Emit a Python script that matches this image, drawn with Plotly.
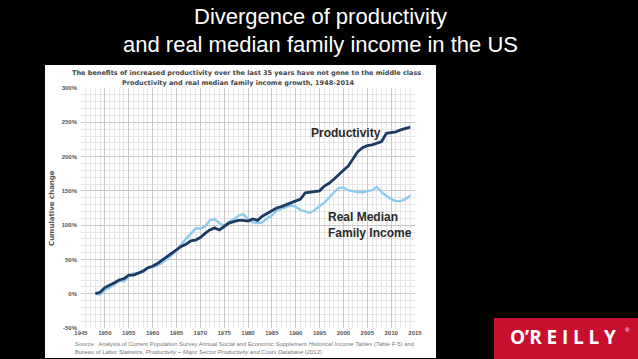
import plotly.graph_objects as go

years = list(range(1948, 2015))
productivity = [0, 2, 9, 12, 16, 20, 22, 27, 27, 30, 33, 38, 40, 44, 49, 53, 58, 63, 69, 72,
                77, 78, 82, 88, 93, 96, 93, 98, 103, 105, 107, 107, 106, 109, 107, 113, 117, 121,
                125, 127, 130, 132, 135, 138, 147, 148, 149, 150, 157, 161, 167, 174, 180, 186,
                197, 207, 213, 216, 217, 219, 222, 234, 235, 236, 239, 241, 243]
income = [0, -1, 5, 9, 13, 19, 18, 25, 30, 30, 31, 37, 39, 41, 45, 51, 56, 62, 72, 80, 88,
          95, 95, 98, 107, 109, 103, 99, 105, 108, 114, 116, 109, 104, 103, 104, 110, 114,
          121, 124, 126, 129, 127, 122, 120, 118, 122, 127, 133, 140, 148, 154, 155, 151,
          149, 148, 148, 149, 151, 156, 148, 143, 138, 135, 135, 138, 143]
x_ticks = list(range(1945, 2016, 5))
y_ticks = [-50, 0, 50, 100, 150, 200, 250, 300]
y_tick_labels = [f"{v}%" for v in y_ticks]

W, H = 638, 359
L, R, T, B = 81, 415, 88, 328
pw, ph = R - L, B - T


def px(x):
    return (x - L) / pw


def py(y):
    return (B - y) / ph


fig = go.Figure()
fig.add_trace(go.Scatter(x=years, y=income, mode="lines", line=dict(color="#8fcbed", width=2.4),
                         hoverinfo="skip", showlegend=False))
fig.add_trace(go.Scatter(x=years, y=productivity, mode="lines", line=dict(color="#1d3a63", width=2.8),
                         hoverinfo="skip", showlegend=False))

shapes = [
    dict(type="rect", xref="paper", yref="paper", x0=px(45), x1=px(436), y0=py(358), y1=py(65),
         fillcolor="white", line=dict(width=0), layer="below"),
    dict(type="rect", xref="paper", yref="paper", x0=px(494), x1=px(640), y0=py(360), y1=py(318),
         fillcolor="#c8102e", line=dict(width=0), layer="above"),
]

sm = dict(family="Liberation Sans, Arial", size=6, color="#555555", weight="bold")
sp = "\u2005"
logo = sp.join(["O\u2019R", "E", "I", "L", "L", "Y"])
anns = [
    dict(text="Divergence of productivity", x=px(320), y=py(17),
         font=dict(family="Liberation Sans, Arial", size=22, color="white")),
    dict(text="and real median family income in the US", x=px(320), y=py(44),
         font=dict(family="Liberation Sans, Arial", size=22, color="white")),
    dict(text="The benefits of increased productivity over the last 35 years have not gone to the middle class",
         x=px(246), y=py(73), font=dict(family="DejaVu Sans", size=6.5, color="#444", weight="bold")),
    dict(text="Productivity and real median family income growth, 1948-2014",
         x=px(238), y=py(83), font=dict(family="DejaVu Sans", size=6.5, color="#444", weight="bold")),
    dict(text="Cumulative change", x=px(52), y=py(208), textangle=-90,
         font=dict(family="DejaVu Sans", size=7, color="#555", weight="bold")),
    dict(text="Productivity", x=px(346), y=py(133),
         font=dict(family="Liberation Sans, Arial", size=12, color="#2b2b2b", weight="bold")),
    dict(text="Real Median<br>Family Income", x=px(326), y=py(225), xanchor="left", align="left",
         font=dict(family="Liberation Sans, Arial", size=12, color="#2b2b2b", weight="bold")),
    dict(text=logo, x=px(563), y=py(337),
         font=dict(family="Open Sans, Liberation Sans", size=19, color="white", weight="bold")),
    dict(text="\u00ae", x=px(627), y=py(330),
         font=dict(family="Liberation Sans", size=6, color="white")),
    dict(text="Source:  Analysis of Current Population Survey Annual Social and Economic Supplement <i>Historical Income Tables</i> (Table F-5) and",
         x=px(73), y=py(344), xanchor="left",
         font=dict(family="Liberation Sans, Arial", size=5.9, color="#777")),
    dict(text="Bureau of Labor Statistics, <i>Productivity \u2013 Major Sector Productivity and Costs Database</i> (2012)",
         x=px(73), y=py(351.5), xanchor="left",
         font=dict(family="Liberation Sans, Arial", size=5.9, color="#777")),
]
for a in anns:
    a.setdefault("xref", "paper")
    a.setdefault("yref", "paper")
    a.setdefault("showarrow", False)
    a.setdefault("xanchor", "center")
    a.setdefault("yanchor", "middle")

fig.update_layout(
    width=W, height=H,
    margin=dict(l=L, r=W - R, t=T, b=H - B, pad=0),
    paper_bgcolor="black",
    plot_bgcolor="rgba(0,0,0,0)",
    shapes=shapes,
    annotations=anns,
    xaxis=dict(range=[1945, 2015], tickvals=x_ticks, ticks="", showline=False, zeroline=False,
               gridcolor="#c8c8c8", gridwidth=1,
               minor=dict(dtick=1, showgrid=True, gridcolor="#e6e6e6", gridwidth=1),
               tickfont=sm, fixedrange=True),
    yaxis=dict(range=[-50, 300], tickvals=y_ticks, ticktext=y_tick_labels, ticks="", showline=False,
               zeroline=False, gridcolor="#c8c8c8", gridwidth=1,
               minor=dict(dtick=10, showgrid=True, gridcolor="#e6e6e6", gridwidth=1),
               tickfont=sm, fixedrange=True, ticklabelstandoff=3),
)

fig.write_html("out.html", config={"displayModeBar": False},
               post_script="document.body.style.margin='0';document.body.style.background='black';"
                           "document.documentElement.style.overflow='hidden';")
